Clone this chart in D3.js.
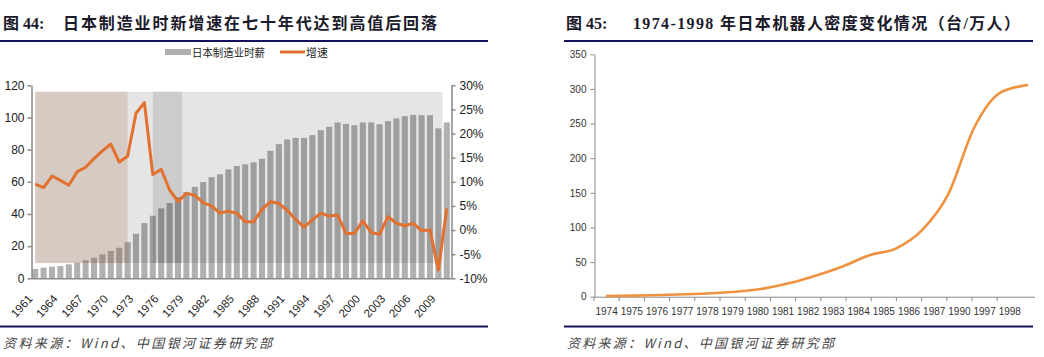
<!DOCTYPE html>
<html><head><meta charset="utf-8">
<script src="https://cdn.jsdelivr.net/npm/d3@7"></script>
<style>body{margin:0;background:#fff} svg{display:block}</style>
</head><body>
<svg id="c" width="1044" height="357"></svg>
<script>
// ---------- data: left chart ----------
const years = [1961,1962,1963,1964,1965,1966,1967,1968,1969,1970,
               1971,1972,1973,1974,1975,1976,1977,1978,1979,1980,
               1981,1982,1983,1984,1985,1986,1987,1988,1989,1990,
               1991,1992,1993,1994,1995,1996,1997,1998,1999,2000,
               2001,2002,2003,2004,2005,2006,2007,2008,2009,2010];
const wage = [5.8,6.6,7.2,7.6,8.7,9.7,11.2,12.8,14.9,17.0,
              19.0,22.5,27.7,34.3,38.9,43.5,46.8,50.5,53.6,56.9,
              59.8,62.9,64.7,67.7,69.8,70.9,72.1,74.3,79.3,83.4,
              86.3,87.3,87.3,89.0,92.1,94.2,96.9,96.0,95.2,96.9,
              96.9,95.8,97.7,99.4,100.8,101.6,101.4,101.4,93.2,96.9];
const growth = [9.5,8.8,11.2,10.3,9.3,12.1,13.0,14.8,16.4,17.8,
                14.1,15.3,24.2,26.4,11.5,12.6,8.3,5.9,7.6,7.2,
                5.7,5.0,3.5,3.9,3.5,1.7,1.7,4.3,5.9,5.5,
                4.1,2.2,0.6,2.1,3.5,2.9,3.1,-0.7,-0.7,1.9,
                -0.5,-0.9,2.8,1.4,0.9,1.4,-0.1,0.0,-8.3,4.5];
const xTickYears = [1961,1964,1967,1970,1973,1976,1979,1982,1985,1988,1991,1994,1997,2000,2003,2006,2009];
const leftTicks = [0,20,40,60,80,100,120];
const rightTicks = [-10,-5,0,5,10,15,20,25,30];
const periodStart = [1961, 1972, 1975, 1978.5];
const periodEnd   = [1972, 1975, 1978.5, 2009.5];
const shadeRange = [9.5, 116];

// ---------- data: right chart ----------
const robotYears = ["1974","1975","1976","1977","1978","1979","1980","1981","1982","1983","1984","1985","1986","1987","1990","1997","1998"];
const density = [1,1.5,2.5,3.5,5,7.5,12,20,31,44,60,69.5,96,148,245,295,305.5];
const densityTicks = [0,50,100,150,200,250,300,350];

// ---------- styles ----------
const periodFills = ["rgba(118,78,52,0.3)","rgba(0,0,0,0.1)","rgba(0,0,0,0.2)","rgba(0,0,0,0.1)"];
const axisColor = "#8a8a8a";
const cjk = "'Noto Sans CJK SC', 'Noto Sans', sans-serif";
const serif = "'Liberation Serif', 'DejaVu Serif', 'Noto Sans CJK SC', serif";
const navy = "#14125a";

const svg = d3.select("#c");

// ---------- titles & rules ----------
function title(x0, label, x1, text, len) {
  svg.append("text").attr("x", x0).attr("y", 29).attr("font-family", serif)
    .attr("font-weight", "bold").attr("font-size", 16).attr("fill", "#1a1a2a").text(label);
  svg.append("text").attr("x", x1).attr("y", 29).attr("font-family", serif)
    .attr("font-weight", "bold").attr("font-size", 16).attr("fill", "#1a1a2a")
    .attr("textLength", len).attr("lengthAdjust", "spacing").text(text);
}
title(3, "图 44:", 63, "日本制造业时新增速在七十年代达到高值后回落", 374);
title(566, "图 45:", 633, "1974-1998 年日本机器人密度变化情况（台/万人）", 387);
[[0,488],[564,1033]].forEach(([a,b]) => {
  svg.append("line").attr("x1",a).attr("x2",b).attr("y1",41).attr("y2",41).attr("stroke",navy).attr("stroke-width",2);
  svg.append("line").attr("x1",a).attr("x2",b).attr("y1",326.5).attr("y2",326.5).attr("stroke",navy).attr("stroke-width",2);
});
[[3,269],[567,267]].forEach(([x,len]) => {
  svg.append("text").attr("x", x).attr("y", 348).attr("font-family", cjk).attr("font-style","italic")
    .attr("font-size", 13).attr("fill", "#444").attr("textLength", len).attr("lengthAdjust", "spacing")
    .text("资料来源：Wind、中国银河证券研究部");
});

// ---------- left chart ----------
const xL = d3.scaleBand().domain(years).range([31, 451]).paddingInner(0.28).paddingOuter(0.14);
const cx = d => xL(d) + xL.bandwidth() / 2;
const xYear = d3.scaleLinear().domain([years[0], years[years.length-1]]).range([cx(years[0]), cx(years[years.length-1])]);
const yL = d3.scaleLinear().domain([0,120]).range([278.3, 85.3]);
const yR = d3.scaleLinear().domain([-10,30]).range([278.3, 85.3]);

svg.append("g").selectAll("rect").data(wage).join("rect")
  .attr("x", (d,i) => xL(years[i])).attr("width", xL.bandwidth())
  .attr("y", d => yL(d)).attr("height", d => yL(0) - yL(d)).attr("fill", "#b0b0b0");

svg.append("g").selectAll("rect").data(periodStart).join("rect")
  .attr("x", d => xYear(d)).attr("width", (d,i) => xYear(periodEnd[i]) - xYear(d))
  .attr("y", yL(shadeRange[1])).attr("height", yL(shadeRange[0]) - yL(shadeRange[1]))
  .attr("fill", (d,i) => periodFills[i]);

const gL = svg.append("g").attr("transform", `translate(${31.5},0)`)
  .call(d3.axisLeft(yL).tickValues(leftTicks).tickSize(4).tickSizeOuter(0).tickPadding(3));
const gR = svg.append("g").attr("transform", `translate(${451.5},0)`)
  .call(d3.axisRight(yR).tickValues(rightTicks).tickSize(4).tickSizeOuter(0).tickPadding(4).tickFormat(d => d + "%"));
[gL, gR].forEach(g => {
  g.selectAll("path, line").attr("stroke", axisColor).attr("stroke-width", 1.5);
  g.selectAll("text").attr("font-family", "'Liberation Sans', Arial, sans-serif").attr("font-size", 12).attr("fill", "#222");
});
const gX = svg.append("g").attr("transform", `translate(0,${yL(0)})`)
  .call(d3.axisBottom(xL).tickValues(xTickYears).tickSize(0).tickSizeOuter(0).tickPadding(0));
gX.select("path").attr("stroke", axisColor).attr("stroke-width", 1.5);
gX.selectAll("text").attr("font-family", "'Liberation Sans', Arial, sans-serif").attr("font-size", 11.5).attr("fill", "#222")
  .attr("text-anchor", "end").attr("dy", 0).attr("transform", "translate(-2,21) rotate(-48)");

svg.append("path").datum(growth)
  .attr("d", d3.line().x((d,i) => cx(years[i])).y(d => yR(d)))
  .attr("fill", "none").attr("stroke", "#e2702e").attr("stroke-width", 3).attr("stroke-linejoin", "round");

// legend
svg.append("rect").attr("x", 165).attr("y", 49).attr("width", 26).attr("height", 6).attr("fill", "#b0b0b0");
svg.append("text").attr("x", 192).attr("y", 56.5).attr("font-family", cjk).attr("font-size", 11).attr("fill", "#222")
  .attr("textLength", 73).attr("lengthAdjust", "spacingAndGlyphs").text("日本制造业时薪");
svg.append("line").attr("x1", 280).attr("x2", 305).attr("y1", 52).attr("y2", 52).attr("stroke", "#e2702e").attr("stroke-width", 3);
svg.append("text").attr("x", 306).attr("y", 56.5).attr("font-family", cjk).attr("font-size", 11).attr("fill", "#222").text("增速");

// ---------- right chart ----------
const xA = d3.scaleBand().domain(robotYears).range([594, 1035]).paddingInner(0).paddingOuter(0.25).align(0);
const xP = d3.scalePoint().domain(robotYears).range([607, 1027]);
const yA = d3.scaleLinear().domain([0,350]).range([296.7, 54.3]);
const narrow = "'Liberation Sans Narrow', 'Arial Narrow', 'Liberation Sans', sans-serif";

const gY2 = svg.append("g").attr("transform", "translate(594.5,0)")
  .call(d3.axisLeft(yA).tickValues(densityTicks).tickSize(4).tickSizeOuter(0).tickPadding(4));
gY2.selectAll("path, line").attr("stroke", axisColor).attr("stroke-width", 1);
gY2.selectAll("text").attr("font-family", narrow).attr("font-size", 10).attr("fill", "#333");

const gX2 = svg.append("g").attr("transform", `translate(0,${yA(0) + 0.5})`)
  .call(d3.axisBottom(xA).tickSize(0).tickSizeOuter(0).tickPadding(11));
gX2.select("path").attr("stroke", axisColor).attr("stroke-width", 1).attr("d", `M594,0H1035`);
gX2.selectAll("text").attr("font-family", narrow).attr("font-size", 10).attr("fill", "#333");
gX2.append("g").selectAll("line").data(robotYears).join("line")
  .attr("x1", d => xA(d)).attr("x2", d => xA(d)).attr("y1", 0).attr("y2", 4)
  .attr("stroke", axisColor).attr("stroke-width", 1);

svg.append("path").datum(density)
  .attr("d", d3.line().x((d,i) => xP(robotYears[i])).y(d => yA(d)).curve(d3.curveMonotoneX))
  .attr("fill", "none").attr("stroke", "#ef9240").attr("stroke-width", 2.6).attr("stroke-linecap", "round");
</script>
</body></html>
